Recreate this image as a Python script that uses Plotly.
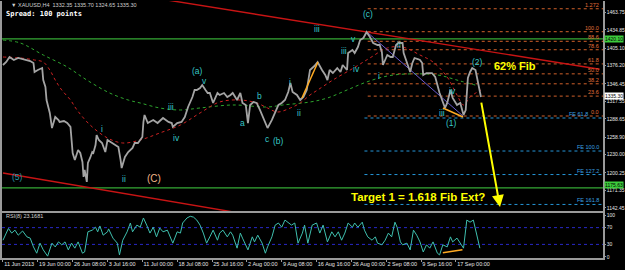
import plotly.graph_objects as go

# ---------------- data ----------------
price_bar = [0,3,6,10,14,17,22,25,28,29,32,36,37,39,40,41,43,45,48,51,52,56,59,62,63,64,66,69,71,73,
             74,75,77,78,80,82,83,85,86,88,91,94,96,100,103,106,108,109,112,115,119,121,124,128,129,130,133,138,142,147,
             152,155,156,160,164,167,170,174,176,178,181,183,186,188,190,193,197,199,203,206,209,211,215,218,220,223,225,227,230,233,
             236,239,241,243,247,250,253,256,259,262,264,266,270,273,276,279,282,286,289,293,296,298,300,303,307,310,312,316,317,321,
             323,326,328,331,334,337,340,344,346,348,349,353,356,358,361,363,367,368,371,374,376,378,381,383,385,386,389,394,397,399,
             401,404,406,408,411,413,417,420,423,425,427,429,431,434,435,437,439]
price_close = [1377.3,1382.2,1390.4,1385.5,1388.8,1387.1,1385.5,1383.8,1380.6,1365.8,
               1369.1,1372.3,1352.6,1341.1,1319.8,1311.6,1298.5,1273.8,1291.9,1287.0,
               1283.7,1285.3,1282.0,1275.5,1254.1,1232.8,1221.3,1237.7,1232.8,1218.0,
               1193.4,1204.9,1185.2,1216.4,1224.6,1234.4,1232.8,1245.9,1262.3,1254.1,
               1249.2,1234.4,1254.1,1249.2,1245.9,1242.6,1221.3,1208.1,1226.2,1234.4,
               1241.0,1249.2,1249.2,1259.1,1283.7,1295.2,1282.0,1287.0,1282.0,1290.2,
               1283.7,1282.0,1275.5,1282.0,1283.7,1291.9,1308.3,1324.7,1336.2,1336.2,
               1339.5,1344.4,1336.2,1331.3,1331.3,1314.9,1331.3,1328.0,1331.3,1324.7,
               1328.0,1331.3,1319.8,1331.3,1314.9,1311.6,1282.0,1311.6,1316.5,1314.9,
               1303.4,1291.9,1283.7,1273.8,1287.0,1300.1,1311.6,1314.9,1319.8,1332.9,
               1347.7,1332.9,1328.0,1319.8,1324.7,1336.2,1369.1,1375.6,1382.2,1369.1,
               1360.9,1352.6,1369.1,1364.1,1372.3,1365.8,1377.3,1369.1,1397.0,1401.9,
               1397.0,1406.8,1418.3,1421.6,1431.5,1423.2,1413.4,1410.1,1410.1,1398.6,
               1377.3,1393.7,1390.4,1390.4,1410.1,1413.4,1413.4,1397.0,1382.2,1365.8,
               1380.6,1388.8,1387.1,1385.5,1380.6,1360.9,1364.1,1364.1,1357.6,1344.4,
               1331.3,1316.5,1306.7,1314.9,1336.2,1323.1,1311.6,1314.9,1295.2,1303.4,
               1355.9,1365.8,1372.3,1369.1,1360.9,1341.1,1324.7]

red_ma_bar = [0,16,29,37,43,48,54,62,68,80,96,110,126,144,163,181,199,218,233,243,
              252,264,273,282,289,303,322,337,353,367,383,395,408,417,423,429,439]
red_ma_val = [1390.4,1388.8,1385.5,1382.2,1369.1,1352.6,1336.2,1319.8,1303.4,1278.8,
              1257.4,1249.2,1254.1,1265.6,1278.8,1298.5,1316.5,1319.8,1314.9,1306.7,
              1300.1,1306.7,1314.9,1328.0,1336.2,1352.6,1372.3,1388.8,1405.2,1406.8,
              1393.7,1382.2,1357.6,1328.0,1311.6,1324.7,1336.2]

green_ma_bar = [0,16,37,59,77,98,115,126,144,163,181,211,243,257,282,298,316,334,353,371,399,420,437]
green_ma_val = [1418.3,1413.4,1393.7,1374.0,1352.6,1331.3,1319.8,1314.9,1306.7,1303.4,
                1306.7,1311.6,1308.3,1311.6,1316.5,1323.1,1336.2,1349.4,1359.2,1362.5,
                1360.9,1351.0,1342.8]

rsi_bar = [0,5,8,11,14,18,22,25,28,31,34,37,41,45,48,51,54,57,60,63,
           66,69,73,75,78,82,85,87,89,92,96,97,101,105,107,110,114,117,119,123,
           126,129,132,135,138,141,144,147,151,153,156,160,163,165,169,172,175,178,181,184,
           187,190,193,197,199,202,206,209,211,215,218,220,225,229,231,234,238,241,243,247,
           250,253,256,259,262,265,268,271,275,277,280,284,288,291,294,298,302,305,308,311,
           314,317,321,323,326,330,332,335,339,342,344,348,351,354,357,360,362,365,367,371,
           374,377,380,383,386,389,392,395,399,401,404,408,411,413,417,420,423,426,429,432,435,438]
rsi_val = [40,68,57,64,52,62,48,45,24,9,33,17,2,33,24,36,29,36,17,33,
           21,36,9,12,60,64,71,60,74,52,60,67,45,33,5,40,60,81,60,76,
           71,93,76,57,71,48,69,60,64,52,33,60,57,81,93,97,95,88,76,57,
           33,48,64,40,57,64,48,60,52,21,57,45,17,48,36,52,33,9,24,48,
           76,81,71,88,83,76,81,33,57,76,33,76,81,57,76,36,60,48,60,40,
           57,81,71,81,71,83,64,48,40,48,33,29,40,57,48,83,71,36,29,33,
           17,64,52,36,12,29,21,36,9,5,29,24,48,36,45,33,21,88,83,88,57,21]

date_tick_bars = [0,32,64,96,128,160,192,224,256,288,320,352,384,416]
date_tick_labels = ["11 Jun 2013","19 Jun 00:00","26 Jun 08:00","3 Jul 16:00","11 Jul 00:00",
                    "18 Jul 08:00","25 Jul 16:00","2 Aug 00:00","9 Aug 08:00","16 Aug 16:00",
                    "26 Aug 00:00","2 Sep 08:00","9 Sep 16:00","17 Sep 00:00"]
price_ticks = [1463.75,1434.85,1405.10,1376.20,1346.45,1317.55,1288.65,1258.90,1230.00,1200.25,1171.35,1142.45]
rsi_ticks = [0,30,70,100]

fib_levels = [0.0,23.6,38.2,50.0,61.8,78.6,88.6,100.0,127.2]
fib_texts = ["0.0","23.6","38.2","50.0","61.8","78.6","88.6","100.0","1.272"]
fib_low, fib_high, fib_start = 1293.5, 1432.0, 335
fe_levels = [61.8,100.0,127.2,161.8]
fe_texts = ["FE 61.8","FE 100.0","FE 127.2","FE 161.8"]
fe_a, fe_b, fe_c, fe_start = 1432.0, 1290.0, 1378.0, 332

hlines = [1420.10, 1175.63]
upper_trend = ([140, 548], [1487.1, 1370.3])
lower_trend = ([0, 230], [1199.9, 1130.3])
purple_trend = ([334.3, 422.5], [1431.5, 1293.5])
orange_1 = ([274.6, 289.3], [1323.1, 1382.2])
orange_2 = ([404.1, 422.5], [1306.7, 1291.9])
rsi_orange = ([404, 422], [10, 17])
arrow_tail = (439.1, 1318.0)
arrow_head = (456.5, 1144.0)

wave_labels = [
    ("(5)", 12.9, 1193.4, "#2a95a5"), ("i", 90.9, 1272.2, None), ("ii", 111.1, 1190.1, None),
    ("(C)", 138.7, 1191.7, "#f2b488"), ("iii", 154.3, 1308.3, None), ("iv", 159.8, 1257.4, None),
    ("(a)", 178.2, 1367.4, None), ("v", 185.5, 1351.0, None), ("a", 220.4, 1282.0, None),
    ("b", 236.0, 1326.4, None), ("c", 243.4, 1255.8, None), ("(b)", 252.6, 1252.5, None),
    ("i", 263.6, 1349.4, None), ("ii", 271.9, 1298.5, None), ("iii", 288.4, 1436.4, None),
    ("iii", 313.2, 1400.3, None), ("v", 321.5, 1420.0, None), ("iv", 325.1, 1370.7, None),
    ("(c)", 335.3, 1461.0, None), ("i", 345.4, 1359.2, None), ("ii", 363.7, 1410.1, None),
    ("iii", 403.2, 1298.5, None), ("iv", 413.3, 1334.6, None), ("(1)", 411.5, 1282.0, None),
    ("(2)", 435.4, 1382.2, None),
]

# ---------------- styles ----------------
BG = "#000000"
FRAME = "#9a9a9a"
CYAN = "#36c8c8"
FONT = "Liberation Sans"
AXFONT = dict(family=FONT, size=5, color="#e6e6e6")
XR = [-0.9, 551.1]
YR = [1136.7, 1482.4]
RR = [-2.4, 104.8]

fig = go.Figure()

def line(x, y, color, width=1, dash=None, axis=1, shape="linear"):
    fig.add_trace(go.Scatter(
        x=x, y=y, mode="lines",
        line=dict(color=color, width=width, dash=dash, shape=shape),
        xaxis="x" if axis == 1 else "x2", yaxis="y" if axis == 1 else "y2",
        hoverinfo="skip", showlegend=False))

for h in hlines:
    line(XR, [h, h], "#34a834", 1.2)

for lv in fib_levels:
    p = fib_low + (fib_high - fib_low) * lv / 100.0
    line([fib_start, XR[1]], [p, p], "#d0602a", 1, "dot")
for lv in fe_levels:
    p = fe_c - (fe_a - fe_b) * lv / 100.0
    line([fe_start, XR[1]], [p, p], "#2596d8", 1, "dot")

line(green_ma_bar, green_ma_val, "#2ea52e", 1, "dot", shape="spline")
line(red_ma_bar, red_ma_val, "#cc2222", 1, "dot", shape="spline")

line(*upper_trend, "#c81414", 1.4)
line(*lower_trend, "#c81414", 1.4)
line(*purple_trend, "#6a5acd", 1)

line(price_bar, price_close, "#a4a4a4", 1.8)

line(*orange_1, "#ffaa22", 1.5)
line(*orange_2, "#ffaa22", 1.5)

line(XR, [70, 70], "#2828c8", 1, "dot", axis=2)
line(XR, [30, 30], "#2828c8", 1, "dot", axis=2)
line(rsi_bar, rsi_val, "#3fbfae", 1, axis=2)
line(*rsi_orange, "#ffaa22", 1.5, axis=2)

ann = []
for txt, bx, py, col in wave_labels:
    size = 10 if txt == "(C)" else 8.5
    ann.append(dict(x=bx, y=py, xref="x", yref="y", text=txt, showarrow=False,
                    font=dict(family=FONT, size=size, color=col or CYAN)))

for lv, t in zip(fib_levels, fib_texts):
    p = fib_low + (fib_high - fib_low) * lv / 100.0
    ann.append(dict(x=549.5, y=p, xref="x", yref="y", text=t, showarrow=False,
                    xanchor="right", yanchor="bottom", yshift=-1,
                    font=dict(family=FONT, size=5.5, color="#e0703a")))
for lv, t in zip(fe_levels, fe_texts):
    p = fe_c - (fe_a - fe_b) * lv / 100.0
    xr = 539.0 if lv == fe_levels[0] else 549.5
    ann.append(dict(x=xr, y=p, xref="x", yref="y", text=t, showarrow=False,
                    xanchor="right", yanchor="bottom", yshift=-1,
                    font=dict(family=FONT, size=5.5, color="#3aa0e0")))

ann.append(dict(x=470.3, y=1375.6, xref="x", yref="y", text="<b>62% Fib</b>", showarrow=False,
                font=dict(family=FONT, size=11, color="#ffff00")))
ann.append(dict(x=381.4, y=1160.5, xref="x", yref="y", text="<b>Target 1 = 1.618 Fib Ext?</b>",
                showarrow=False, font=dict(family=FONT, size=11.5, color="#ffff00")))
ann.append(dict(x=arrow_head[0], y=arrow_head[1], ax=arrow_tail[0], ay=arrow_tail[1],
                xref="x", yref="y", axref="x", ayref="y", text="", showarrow=True,
                arrowhead=2, arrowsize=1.2, arrowwidth=2, arrowcolor="#ffff00"))

for val, txt, bg, ys in [(1420.10, "1420.10", "#3ccc3c", 0), (1175.63, "1175.63", "#3ccc3c", 3),
                         (price_close[-1], "1335.30", "#ffffff", 1)]:
    ann.append(dict(x=1, y=val, xref="paper", yref="y", text=txt, showarrow=False,
                    xanchor="left", xshift=1, yshift=ys, bgcolor=bg, borderpad=0,
                    font=dict(family=FONT, size=5, color="#000000")))

ann.append(dict(x=0.012, y=0.983, xref="paper", yref="paper", xanchor="left", yanchor="middle",
                text="▼ XAUUSD,H4  1332.35 1335.70 1324.65 1335.30", showarrow=False,
                font=dict(family=FONT, size=5.5, color="#d0d0d0")))
ann.append(dict(x=0.004, y=0.951, xref="paper", yref="paper", xanchor="left", yanchor="middle",
                text="<b>Spread: 100 points</b>", showarrow=False,
                font=dict(family="DejaVu Sans Mono", size=7, color="#ffffff")))
ann.append(dict(x=0.004, y=0.163, xref="paper", yref="paper", xanchor="left", yanchor="middle",
                text="RSI(8) 23.1681", showarrow=False,
                font=dict(family=FONT, size=5.5, color="#d0d0d0")))

axis_common = dict(showgrid=False, zeroline=False, showline=True, linecolor=FRAME,
                   linewidth=1.5, automargin=False)

fig.update_layout(
    width=625, height=270,
    margin=dict(l=2, r=22, t=1, b=12),
    paper_bgcolor=BG, plot_bgcolor=BG,
    showlegend=False,
    xaxis=dict(domain=[0, 1], anchor="y", range=XR, showticklabels=False, ticks="",
               mirror=False, **axis_common),
    yaxis=dict(domain=[0.181, 1], anchor="x", range=YR, side="right",
               tickvals=price_ticks, ticktext=[f"{v:.2f}" for v in price_ticks],
               tickfont=AXFONT, ticks="outside", ticklen=1, tickcolor=FRAME,
               mirror=True, **axis_common),
    xaxis2=dict(domain=[0, 1], anchor="y2", range=XR, matches="x",
                tickvals=date_tick_bars, ticktext=date_tick_labels, tickangle=0,
                ticklabelposition="outside right",
                tickfont=dict(family=FONT, size=5.5, color="#e6e6e6"),
                ticks="outside", ticklen=2, tickcolor=FRAME, mirror=True, **axis_common),
    yaxis2=dict(domain=[0, 0.175], anchor="x2", range=RR, side="right",
                tickvals=rsi_ticks, ticktext=[str(v) for v in rsi_ticks],
                tickfont=AXFONT, ticks="outside", ticklen=1, tickcolor=FRAME,
                mirror=True, **axis_common),
    annotations=ann,
)

fig.write_html("out.html")
